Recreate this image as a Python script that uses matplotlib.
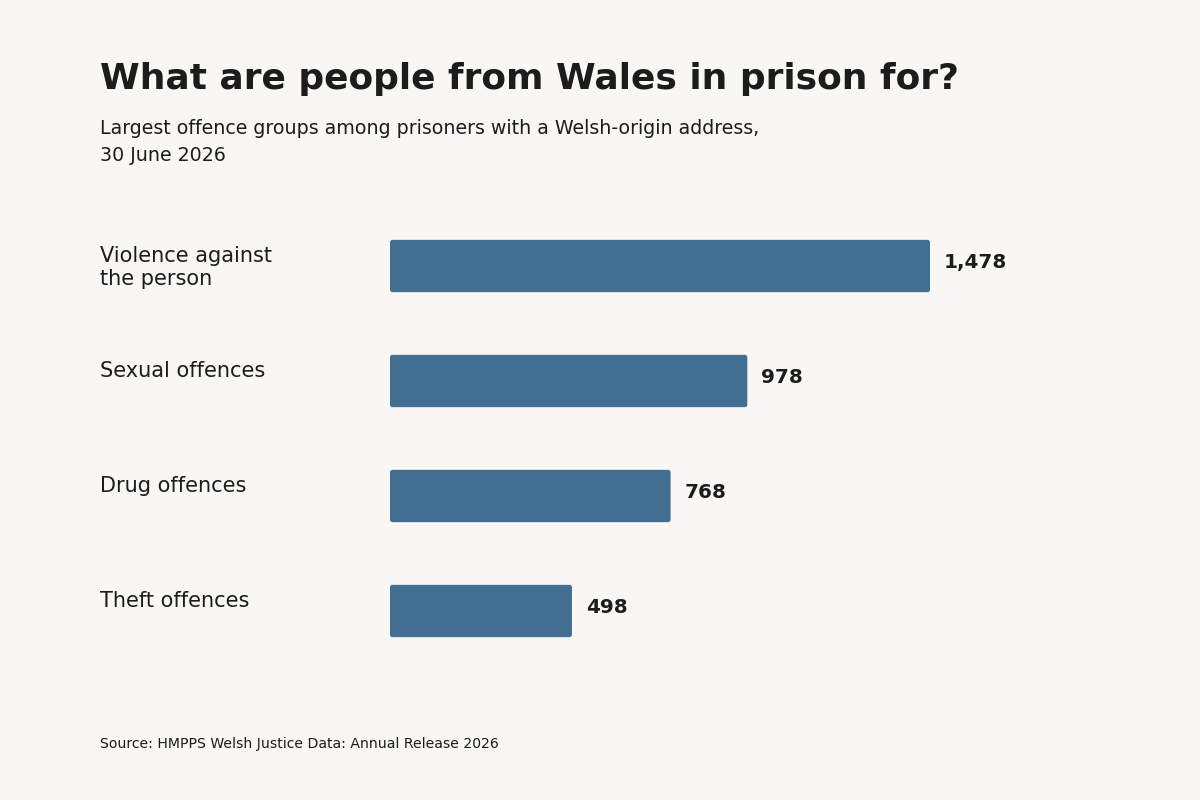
import matplotlib
matplotlib.use("Agg")
import matplotlib.pyplot as plt
from matplotlib.patches import FancyBboxPatch
from matplotlib.transforms import blended_transform_factory

plt.rcParams["font.family"] = ["DejaVu Sans"]

categories = ["Violence against\nthe person", "Sexual offences", "Drug offences", "Theft offences"]
counts = [1478, 978, 768, 498]

bg = "#f8f7f4"
bar_col = "#426e91"
ink = "#1c1c1c"

W, H = 1200, 800
fig = plt.figure(figsize=(12, 8), dpi=100, facecolor=bg)

# axes placed so that 0 sits at x=390px and the largest bar ends at 930px
left = 390 / W
width = 540 / W
bottom = 1 - 668.5 / H
height = 460 / H
ax = fig.add_axes([left, bottom, width, height])
ax.set_facecolor(bg)
ax.set_xlim(0, max(counts))
ax.set_ylim(len(categories) - 0.5, -0.5)
ax.axis("off")

bar_h = 0.455
px_x = width * W / max(counts)        # pixels per data unit along x
px_y = height * H / len(categories)    # pixels per data unit along y
r = 2.5 / px_x                         # ~2.5px corner radius

ypos = list(range(len(categories)))
for y, v in zip(ypos, counts):
    ax.add_patch(FancyBboxPatch((0, y - bar_h / 2), v, bar_h,
                                boxstyle=f"round,pad=0,rounding_size={r}",
                                mutation_aspect=px_x / px_y,
                                facecolor=bar_col, edgecolor="none"))
    ax.annotate(f"{v:,}", xy=(v, y), xytext=(10, -1.5), textcoords="offset points",
                ha="left", va="baseline", fontsize=14.4, fontweight="bold", color=ink,
                annotation_clip=False)

# category names: first line baseline ~22px below bar top, 23px per extra line
trans = blended_transform_factory(fig.transFigure, ax.transData)
line_px = 23.3
for y, lab in zip(ypos, categories):
    for k, line in enumerate(lab.split("\n")):
        ax.text(100 / W, y - bar_h / 2 + (21.7 + k * line_px) / px_y, line,
                transform=trans, ha="left", va="baseline", fontsize=15, color=ink)

fig.text(100 / W, 1 - 89 / H, "What are people from Wales in prison for?",
         fontsize=25.9, fontweight="bold", color=ink, ha="left", va="baseline")
fig.text(100 / W, 1 - 134 / H,
         "Largest offence groups among prisoners with a Welsh-origin address,",
         fontsize=13.7, color=ink, ha="left", va="baseline")
fig.text(100 / W, 1 - 161 / H, "30 June 2026",
         fontsize=13.7, color=ink, ha="left", va="baseline")
fig.text(100 / W, 1 - 748 / H, "Source: HMPPS Welsh Justice Data: Annual Release 2026",
         fontsize=10.1, color=ink, ha="left", va="baseline")

fig.savefig("out.png", dpi=100, facecolor=bg)
